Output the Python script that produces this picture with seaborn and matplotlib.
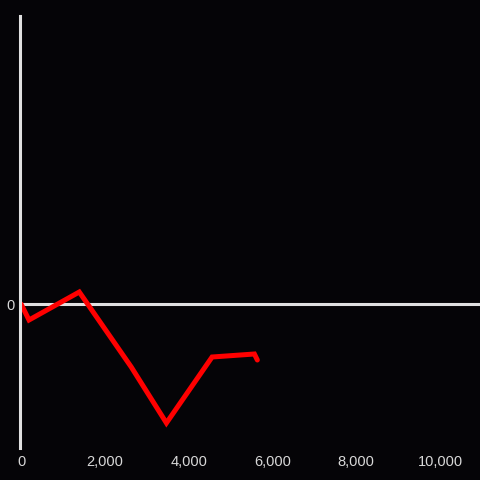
import matplotlib
matplotlib.use("Agg")
import matplotlib.pyplot as plt
import seaborn as sns
import pandas as pd
from matplotlib.ticker import FuncFormatter

x_vals = [0, 190, 1390, 2630, 3470, 4560, 5570, 5640]
y_vals = [0, -16, 12, -63, -119, -53, -50, -56]
x_ticks = [0, 2000, 4000, 6000, 8000, 10000]

df = pd.DataFrame({"x": x_vals, "y": y_vals})

sns.set_style("dark")
plt.rcParams["font.family"] = ["Liberation Sans", "DejaVu Sans"]

bg = "#050407"
fig = plt.figure(figsize=(4.8, 4.8), dpi=100, facecolor=bg)
ax = fig.add_axes([20 / 480, 32 / 480, 460 / 480, 432 / 480])
ax.set_facecolor(bg)

sns.lineplot(data=df, x="x", y="y", ax=ax, color="#ff0000", linewidth=3.6,
             sort=False, solid_joinstyle="miter")

ax.axhline(0, color="#e0e0e0", linewidth=2.2, zorder=1)

ax.set_xlim(-25, 10955)
ax.set_ylim(-144, 288)
ax.set_xticks(x_ticks)
ax.xaxis.set_major_formatter(FuncFormatter(lambda v, p: f"{int(v):,}"))
ax.set_yticks([0])
ax.tick_params(axis="both", length=0, colors="#d8d8d8", labelsize=10.5)
ax.tick_params(axis="x", pad=5)
ax.tick_params(axis="y", pad=4)
ax.set_xlabel("")
ax.set_ylabel("")
ax.grid(False)

for s in ["top", "right", "bottom"]:
    ax.spines[s].set_visible(False)
ax.spines["left"].set_color("#e0e0e0")
ax.spines["left"].set_linewidth(2.2)

fig.savefig("out.png", facecolor=bg)
